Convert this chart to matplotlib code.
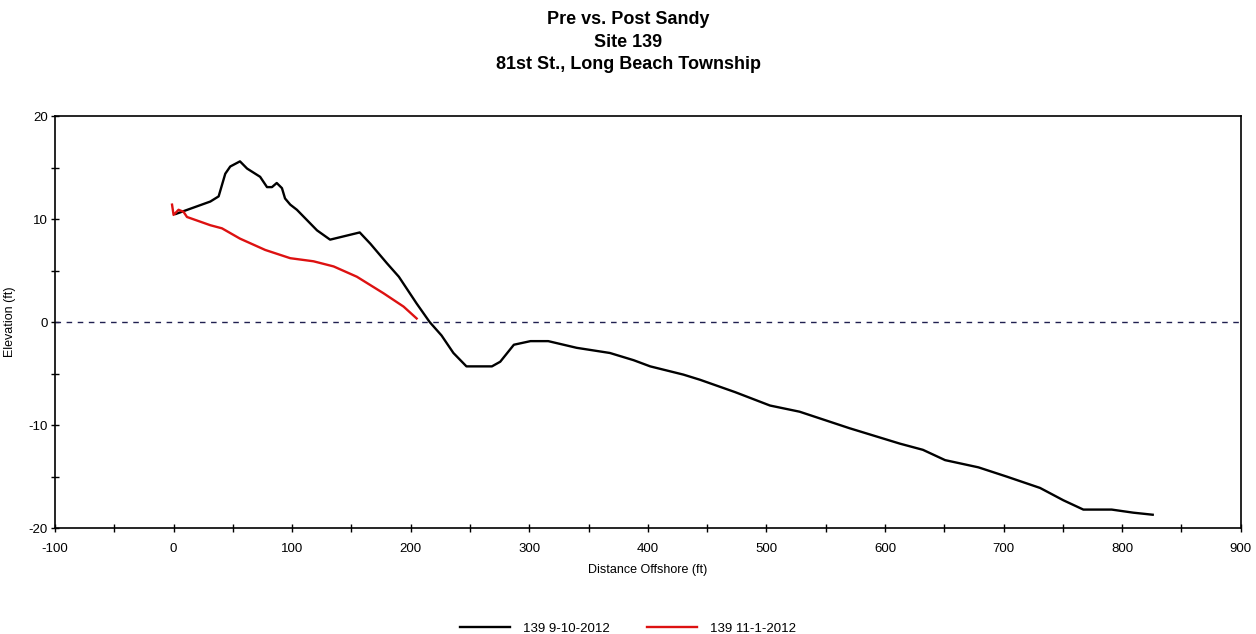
import matplotlib
matplotlib.use("Agg")
import matplotlib.pyplot as plt
from matplotlib.ticker import MultipleLocator

plt.rcParams['font.family'] = ['Liberation Sans', 'DejaVu Sans']
plt.rcParams['axes.unicode_minus'] = False

# pre-storm survey 9-10-2012
pre_x = [2, 31, 38, 43.6, 47.8, 56, 62, 73, 78.8, 83, 87, 91.4, 94, 98.4, 104,
         112.5, 121, 132, 157, 166, 180, 190, 205, 216, 226, 236, 247, 268.5,
         275.5, 287, 301, 316, 340, 368, 388, 402, 430, 444, 473.6, 503, 528,
         570, 612.6, 632, 650.7, 678.8, 702.7, 730.8, 750.5, 767.3, 791.2,
         809.4, 825.8]
pre_y = [10.5, 11.7, 12.2, 14.4, 15.1, 15.6, 14.9, 14.1, 13.1, 13.1, 13.5, 13.0,
         12.0, 11.4, 10.9, 9.9, 8.9, 8.0, 8.7, 7.6, 5.7, 4.4, 1.8, 0.0, -1.3,
         -3.0, -4.3, -4.3, -3.85, -2.2, -1.85, -1.85, -2.5, -3.0, -3.7, -4.3,
         -5.1, -5.6, -6.8, -8.1, -8.7, -10.3, -11.8, -12.4, -13.4, -14.1, -15.0,
         -16.1, -17.3, -18.2, -18.2, -18.5, -18.7]

# post-storm survey 11-1-2012
post_x = [-1.3, 0, 4.2, 8.4, 11.3, 31, 40.8, 56, 77.3, 98.4, 118, 135, 154.6,
          177, 194, 205]
post_y = [11.4, 10.4, 10.9, 10.7, 10.2, 9.4, 9.1, 8.1, 7.0, 6.2, 5.9, 5.4, 4.4,
          2.8, 1.5, 0.35]

labels = ['139 9-10-2012', '139 11-1-2012']

fig = plt.figure(figsize=(12.56, 6.34), dpi=100)
ax = fig.add_axes([0.0438, 0.167, 0.944, 0.650])

ax.axhline(0, color='#202050', lw=1, ls=(0, (4, 4)))
ax.plot(pre_x, pre_y, color='black', lw=1.7, label=labels[0])
ax.plot(post_x, post_y, color='#dd1111', lw=1.7, label=labels[1])

ax.set_xlim(-100, 900)
ax.set_ylim(-20, 20)
ax.xaxis.set_major_locator(MultipleLocator(100))
ax.xaxis.set_minor_locator(MultipleLocator(50))
ax.yaxis.set_major_locator(MultipleLocator(10))
ax.yaxis.set_minor_locator(MultipleLocator(5))
ax.tick_params(which='both', direction='inout', length=6, width=1,
               labelsize=9.5)
ax.tick_params(axis='x', pad=8)
ax.tick_params(axis='y', pad=2)
for s in ax.spines.values():
    s.set_linewidth(1.2)

ax.set_xlabel('Distance Offshore (ft)', fontsize=9, labelpad=6)
ax.set_ylabel('Elevation (ft)', fontsize=9)
ax.yaxis.set_label_coords(-0.033, 0.5)

fig.text(0.5, 0.983, 'Pre vs. Post Sandy\nSite 139\n81st St., Long Beach Township',
         ha='center', va='top', fontsize=13, fontweight='bold', linespacing=1.45)

fig.legend(loc='lower center', bbox_to_anchor=(0.5, -0.02), ncol=2,
           frameon=False, fontsize=9.5, handlelength=3.8, columnspacing=2.8,
           handletextpad=1.0)

fig.savefig('out.png', dpi=100)
